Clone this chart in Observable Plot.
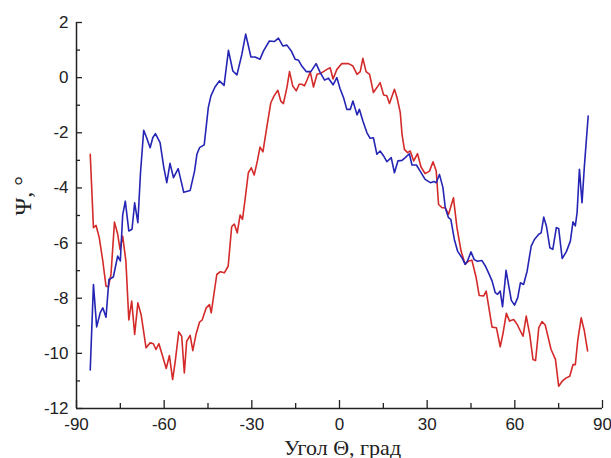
<!DOCTYPE html>
<html>
<head>
<meta charset="utf-8">
<script src="https://cdn.jsdelivr.net/npm/d3@7"></script>
<script src="https://cdn.jsdelivr.net/npm/@observablehq/plot@0.6"></script>
<style>
  html, body { margin: 0; padding: 0; background: #fff; }
</style>
</head>
<body>
<div id="chart"></div>
<script>
const redTheta = [-85.3,-84.2,-83.3,-82.2,-81.0,-79.9,-79.1,-78.2,-77.0,-75.9,-75.1,-74.2,-73.1,-72.1,-71.1,-70.1,-69.0,-67.9,-66.2,-64.8,-63.7,-62.8,-61.8,-60.7,-59.3,-58.2,-57.1,-56.2,-55.0,-54.0,-53.1,-52.3,-51.1,-50.2,-49.1,-47.9,-47.0,-45.6,-44.5,-43.9,-42.0,-40.8,-39.4,-38.1,-36.9,-36.0,-35.0,-34.0,-33.2,-32.3,-31.2,-30.2,-29.2,-28.1,-27.2,-26.2,-24.9,-23.5,-22.4,-21.1,-20.1,-19.2,-18.0,-17.1,-16.0,-14.8,-13.8,-12.9,-12.0,-11.0,-10.0,-8.9,-7.7,-6.6,-5.5,-4.3,-3.2,-2.2,-0.9,0.8,3.1,4.6,6.0,7.1,8.0,9.1,10.3,11.6,12.8,13.9,15.1,16.2,17.1,18.8,19.7,20.8,21.4,22.2,23.3,24.2,25.4,26.7,27.9,29.3,30.8,32.0,33.1,33.9,35.1,36.2,37.3,39.0,40.2,41.6,43.0,44.2,45.3,46.7,47.8,49.3,50.2,52.2,53.7,55.0,55.9,57.1,58.2,59.6,60.8,61.9,62.8,63.9,65.1,66.2,67.1,68.2,69.3,70.4,71.6,72.4,73.9,75.0,76.2,77.6,78.8,79.9,80.7,81.5,82.7,83.8,84.9];
const redPsi = [-2.78,-5.44,-5.36,-5.81,-6.65,-7.56,-7.59,-7.14,-5.24,-5.68,-6.23,-5.75,-6.65,-8.79,-8.10,-9.31,-8.17,-8.59,-9.80,-9.62,-9.65,-9.86,-9.65,-10.04,-10.55,-10.08,-10.95,-10.28,-9.22,-9.38,-10.71,-9.56,-9.35,-9.90,-9.31,-8.87,-8.79,-8.35,-8.23,-8.53,-7.14,-7.04,-7.08,-6.84,-5.41,-5.31,-5.63,-4.98,-5.14,-4.41,-3.45,-3.27,-3.53,-3.02,-2.52,-2.69,-1.81,-0.91,-0.66,-0.46,-0.85,-0.94,-0.36,0.22,-0.30,-0.48,-0.24,-0.24,-0.30,-0.06,0.21,-0.34,0.12,0.15,0.22,0.30,0.36,-0.05,0.30,0.51,0.51,0.42,0.12,0.22,0.70,0.22,0.12,-0.54,-0.36,-0.18,-0.63,-0.66,-0.94,-0.42,-0.73,-1.27,-2.06,-2.60,-2.72,-2.66,-3.02,-2.76,-3.24,-3.48,-3.39,-3.05,-3.39,-4.60,-4.72,-4.72,-4.96,-4.36,-5.44,-6.29,-6.77,-6.65,-6.62,-7.22,-7.90,-7.92,-7.74,-9.05,-9.07,-9.76,-9.31,-8.55,-8.83,-8.77,-8.95,-9.19,-9.38,-8.65,-9.31,-10.22,-10.26,-9.07,-8.85,-8.97,-9.50,-9.86,-10.22,-11.19,-11.01,-10.89,-10.83,-10.41,-10.41,-9.56,-8.71,-9.19,-9.91];

const blueTheta = [-85.3,-84.2,-83.1,-81.9,-81.0,-79.9,-78.9,-77.4,-75.9,-75.0,-74.2,-73.3,-72.1,-71.0,-70.1,-69.0,-68.1,-67.0,-66.0,-64.8,-63.9,-63.0,-61.4,-60.1,-59.1,-58.0,-56.8,-55.2,-53.3,-51.1,-49.6,-48.8,-47.9,-46.3,-44.9,-44.0,-42.6,-41.1,-39.5,-38.0,-36.5,-35.1,-33.4,-32.1,-30.3,-28.9,-27.2,-26.0,-24.0,-22.3,-20.9,-19.4,-18.0,-16.5,-15.2,-14.0,-12.9,-11.4,-9.8,-8.0,-6.6,-5.1,-3.8,-2.2,-0.9,0.2,1.4,2.5,3.7,4.6,6.0,6.8,8.0,9.4,10.5,11.6,12.8,13.9,15.1,16.2,17.7,18.8,20.0,21.4,22.5,23.9,24.8,26.3,27.6,29.3,31.1,32.4,33.1,34.2,35.4,36.2,37.3,38.1,39.3,40.4,41.9,43.0,43.8,45.0,46.1,47.2,48.7,49.9,51.0,52.2,53.3,54.1,55.0,55.8,57.0,57.8,58.8,59.9,61.0,61.9,63.0,64.2,65.6,66.7,68.2,69.0,69.9,70.8,72.0,73.0,74.2,75.0,76.2,77.6,79.0,79.9,80.7,81.3,82.1,83.0,83.8,85.1];
const bluePsi = [-10.60,-7.50,-9.04,-8.53,-8.35,-8.69,-7.32,-7.23,-6.47,-6.65,-4.99,-4.48,-5.56,-5.50,-4.54,-5.26,-3.45,-1.91,-2.18,-2.54,-2.18,-2.03,-2.36,-3.27,-3.81,-3.11,-3.63,-3.30,-4.16,-4.09,-3.39,-2.78,-2.54,-2.44,-1.09,-0.66,-0.34,-0.12,-0.28,0.99,0.24,0.10,0.85,1.58,0.75,0.75,0.67,0.97,1.33,1.31,1.43,1.15,1.18,0.97,0.67,0.63,0.42,0.22,0.22,0.51,0.18,-0.09,-0.02,-0.26,0.0,-0.40,-0.73,-1.15,-1.15,-0.85,-1.35,-1.15,-1.57,-2.00,-2.20,-2.18,-2.78,-2.66,-2.84,-3.05,-2.90,-3.45,-3.02,-3.00,-2.90,-2.76,-3.17,-3.17,-3.39,-3.69,-3.81,-3.77,-3.81,-3.51,-3.99,-4.72,-5.08,-5.14,-5.87,-6.29,-6.53,-6.77,-6.65,-6.32,-6.60,-6.66,-6.63,-6.83,-7.08,-7.37,-7.80,-7.86,-7.74,-8.31,-6.99,-7.48,-8.08,-8.25,-7.98,-7.44,-7.50,-7.02,-6.11,-5.87,-5.68,-5.63,-5.06,-5.38,-6.17,-6.23,-5.44,-5.47,-6.56,-6.32,-5.93,-5.23,-5.38,-4.90,-3.32,-4.54,-3.21,-1.39];

const xMajor = [-90,-60,-30,0,30,60,90];
const xMinor = [-75,-45,-15,15,45,75];
const yMajor = [-12,-10,-8,-6,-4,-2,0,2];
const yMinor = [-11,-9,-7,-5,-3,-1,1];
const xTitle = "Угол Θ, град";
const yTitle = "Ψ, °";

const red = redTheta.map((t, i) => ({theta: t, psi: redPsi[i]}));
const blue = blueTheta.map((t, i) => ({theta: t, psi: bluePsi[i]}));

const fmt = d => String(d);
const axisColor = "#222";
const serif = "'Liberation Serif', 'Times New Roman', serif";

const chart = Plot.plot({
  width: 611,
  height: 458,
  marginLeft: 76,
  marginRight: 9,
  marginTop: 22,
  marginBottom: 50,
  style: {fontFamily: "'Liberation Sans', Arial, sans-serif", fontSize: "17px", color: axisColor, background: "#fff"},
  x: {domain: [-90, 90], label: null},
  y: {domain: [-12, 2], label: null},
  marks: [
    Plot.line(red, {x: "theta", y: "psi", stroke: "#d42a2a", strokeWidth: 1.6}),
    Plot.line(blue, {x: "theta", y: "psi", stroke: "#2525b5", strokeWidth: 1.6}),
    Plot.ruleY([-12], {stroke: axisColor, strokeWidth: 1.5}),
    Plot.ruleX([-90], {stroke: axisColor, strokeWidth: 1.5}),
    Plot.axisX(xMajor, {tickSize: 8, dy: -8, tickFormat: () => "", label: null, stroke: axisColor, strokeWidth: 1.3}),
    Plot.axisX(xMinor, {tickSize: 5, dy: -5, tickFormat: () => "", label: null, stroke: axisColor, strokeWidth: 1.3}),
    Plot.axisX(xMajor, {tickSize: 0, tickPadding: 9, tickFormat: fmt, label: null, fontSize: 17, fill: axisColor}),
    Plot.axisY(yMajor, {tickSize: 6, dx: 6, tickFormat: () => "", label: null, stroke: axisColor, strokeWidth: 1.3}),
    Plot.axisY(yMinor, {tickSize: 4, dx: 4, tickFormat: () => "", label: null, stroke: axisColor, strokeWidth: 1.3}),
    Plot.axisY(yMajor, {tickSize: 0, tickPadding: 8, tickFormat: fmt, label: null, fontSize: 17, fill: axisColor}),
    Plot.text([xTitle], {text: d => d, frameAnchor: "bottom", dx: 3, dy: 46, fontFamily: serif, fontSize: 22, fill: axisColor}),
    Plot.text([yTitle], {text: d => d, frameAnchor: "left", dx: -53, rotate: -90, fontFamily: serif, fontSize: 24, fill: axisColor})
  ]
});
document.getElementById("chart").appendChild(chart);
</script>
</body>
</html>
